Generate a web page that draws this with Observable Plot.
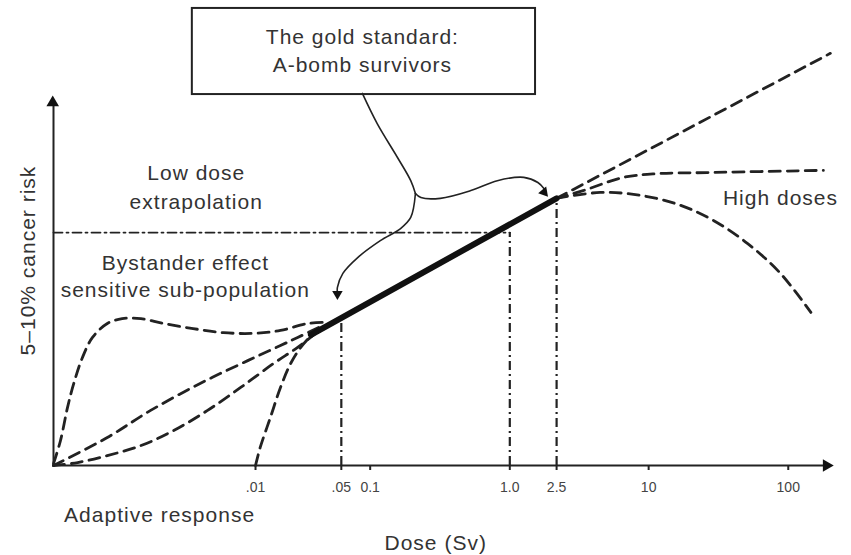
<!DOCTYPE html>
<html>
<head>
<meta charset="utf-8">
<script src="https://cdn.jsdelivr.net/npm/d3@7"></script>
<script src="https://cdn.jsdelivr.net/npm/@observablehq/plot@0.6"></script>
<style>
  html, body { margin: 0; padding: 0; background: #fff; }
  #chart svg { display: block; font-family: "Liberation Sans", Arial, Helvetica, sans-serif; }
</style>
</head>
<body>
<div id="chart"></div>
<script>
// Dose axis: relative position (0 = origin, 100 = arrow tip); ticks are labelled doses (Sv)
const tickPos = [25.9, 36.9, 40.6, 58.5, 64.5, 76.3, 94.2];
const tickLabels = [".01", ".05", "0.1", "1.0", "2.5", "10", "100"];

// Risk curves, [dose position, relative risk]
const bystander = [[0,0.5],[0.9,6.8],[1.8,15.8],[2.6,22.3],[3.7,29.3],[5.0,34.8],[6.9,38.6],[8.8,39.9],[11.2,39.9],[14.1,38.6],[17.9,37.2],[21.8,36.1],[25.6,35.9],[29.1,36.7],[32.6,38.6],[34.9,38.9]];
const linearLow = [[0,0],[6.9,7.6],[12.4,14.9],[18.8,22.3],[24.9,28.5],[29.1,32.6],[31.3,34.8],[34.0,37.5]];
const supralinear = [[0,0],[3.1,0.8],[6.9,2.7],[11.2,5.4],[15.4,9.5],[19.7,14.9],[24.0,21.2],[28.2,27.7],[31.3,32.1],[33.6,35.9]];
const threshold = [[25.9,0],[26.5,4.9],[27.8,13.0],[29.1,21.2],[30.4,27.7],[31.7,32.1],[33.3,35.9]];
const goldStandard = [[33.0,35.5],[64.5,72.6]];
const highLinear = [[64.5,72.6],[99.6,112.0]];
const highPlateau = [[64.5,72.6],[67.9,74.7],[73.1,78.3],[77.4,79.3],[83.8,79.6],[98.7,80.2]];
const highDown = [[64.5,72.6],[70.1,74.2],[75.3,73.4],[80.4,70.7],[84.6,66.6],[89.0,60.3],[93.2,52.2],[97.1,41.6]];

// Reference (dash-dot) lines
const riskLevel = [[0,63.3],[58.5,63.3]];
const markerDoses = [
  {x: 36.9, top: 40.1},
  {x: 58.5, top: 63.3},
  {x: 64.5, top: 72.6}
];

// Annotation callout
const calloutBox = [{x1: 17.8, x2: 61.8, y1: 100.8, y2: 124.2}];
const calloutStem = [[39.6,101.1],[41.5,92.9],[44.1,83.7],[45.8,77.4],[46.4,73.9]];
const calloutLeft = [[46.4,73.9],[45.8,67.4],[44.5,64.4],[41.9,61.1],[39.0,56.5],[37.1,52.2],[36.4,48.4],[36.4,47.0]];
const calloutRight = [[46.4,73.9],[47.1,72.8],[49.6,72.6],[53.5,74.7],[56.9,77.4],[60.3,78.3],[62.1,76.9],[62.9,75.2]];
const arrowHeads = [
  {x: 36.4, y: 46.6, angle: 180, size: 5},
  {x: 62.9, y: 74.3, angle: 140, size: 5},
  {x: 99.1, y: 0, angle: 90, size: 6},
  {x: -0.1, y: 98.6, angle: 0, size: 6}
];
const axisLines = [
  [[0,0],[99.2,0]],
  [[0,0],[0,98.6]]
];

const labels = [
  {x: 39.6, y: 116.3, text: "The gold standard:"},
  {x: 39.6, y: 108.7, text: "A-bomb survivors"},
  {x: 18.3, y: 79.3, text: "Low dose"},
  {x: 18.3, y: 71.5, text: "extrapolation"},
  {x: 16.9, y: 54.9, text: "Bystander effect"},
  {x: 16.9, y: 47.6, text: "sensitive sub-population"},
  {x: 93.2, y: 72.6, text: "High doses"},
  {x: 13.6, y: -13.6, text: "Adaptive response"},
  {x: 49.0, y: -21.2, text: "Dose (Sv)"}
];
const yLabel = [{x: -3.2, y: 55.7, text: "5\u201310% cancer risk"}];

const ink = "#222";
const textInk = "#333";
const dash = "11,7";
const dashDot = "9,4,2,4";

const tickMap = new Map(tickPos.map((p, i) => [p, tickLabels[i]]));

const chart = Plot.plot({
  width: 851,
  height: 555,
  marginLeft: 53,
  marginRight: 18,
  marginTop: 97,
  marginBottom: 90,
  x: {type: "linear", domain: [0, 100]},
  y: {type: "linear", domain: [0, 100], axis: null},
  r: {type: "identity"},
  marks: [
    // dash-dot guides
    Plot.line(riskLevel, {stroke: ink, strokeWidth: 1.8, strokeDasharray: dashDot}),
    Plot.ruleX(markerDoses, {x: "x", y1: 0, y2: "top", stroke: ink, strokeWidth: 2.2, strokeDasharray: dashDot}),
    // dashed model curves
    Plot.line(bystander, {stroke: ink, strokeWidth: 2.8, strokeDasharray: dash, curve: "catmull-rom"}),
    Plot.line(linearLow, {stroke: ink, strokeWidth: 2.8, strokeDasharray: dash, curve: "catmull-rom"}),
    Plot.line(supralinear, {stroke: ink, strokeWidth: 2.8, strokeDasharray: dash, curve: "catmull-rom"}),
    Plot.line(threshold, {stroke: ink, strokeWidth: 2.8, strokeDasharray: dash, curve: "catmull-rom"}),
    Plot.line(highLinear, {stroke: ink, strokeWidth: 2.8, strokeDasharray: dash}),
    Plot.line(highPlateau, {stroke: ink, strokeWidth: 2.8, strokeDasharray: dash, curve: "catmull-rom"}),
    Plot.line(highDown, {stroke: ink, strokeWidth: 2.8, strokeDasharray: dash, curve: "catmull-rom"}),
    // A-bomb survivor range
    Plot.line(goldStandard, {stroke: "#111", strokeWidth: 6}),
    // axes
    ...axisLines.map(l => Plot.line(l, {stroke: ink, strokeWidth: 2})),
    Plot.axisX({ticks: tickPos, tickFormat: d => tickMap.get(d), tickSize: 5, tickPadding: 12, strokeWidth: 2, stroke: ink, fontSize: 14, color: "#444", label: null}),
    // callout
    Plot.rect(calloutBox, {x1: "x1", x2: "x2", y1: "y1", y2: "y2", fill: "#fff", stroke: ink, strokeWidth: 2}),
    Plot.line(calloutStem, {stroke: ink, strokeWidth: 1.6, curve: "catmull-rom"}),
    Plot.line(calloutLeft, {stroke: ink, strokeWidth: 1.6, curve: "catmull-rom"}),
    Plot.line(calloutRight, {stroke: ink, strokeWidth: 1.6, curve: "catmull-rom"}),
    Plot.dot(arrowHeads, {x: "x", y: "y", symbol: "triangle2", r: "size", rotate: "angle", fill: "#111", stroke: null}),
    // text
    Plot.text(labels, {x: "x", y: "y", text: "text", fontSize: 21, fill: textInk, textAnchor: "middle", className: "lbl"}),
    Plot.text(yLabel, {x: "x", y: "y", text: "text", fontSize: 21, fill: textInk, rotate: -90, textAnchor: "middle", className: "lbl"})
  ]
});

chart.querySelectorAll(".lbl text").forEach(t => t.setAttribute("letter-spacing", "1"));
const tickSet = new Set(tickLabels);
chart.querySelectorAll("text").forEach(t => {
  if (tickSet.has(t.textContent.trim())) {
    t.style.fontSize = "14px";
    t.style.fill = "#444";
  }
});
document.getElementById("chart").appendChild(chart);
</script>
</body>
</html>
